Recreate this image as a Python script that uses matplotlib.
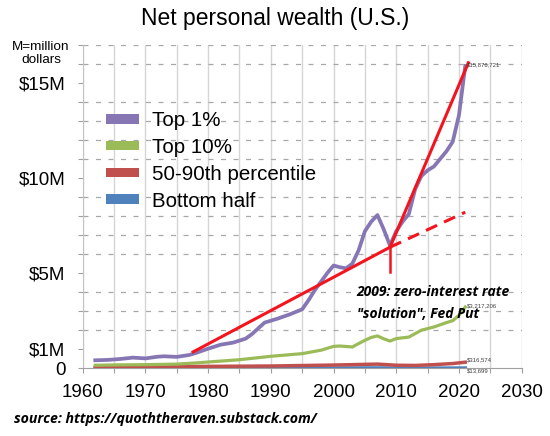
import matplotlib
matplotlib.use('Agg')
import matplotlib.pyplot as plt
from matplotlib.patches import Patch
from matplotlib.ticker import MultipleLocator, FixedLocator

# average net personal wealth, millions of dollars
top1_years = [1962, 1964, 1966, 1968, 1970, 1972, 1973, 1975, 1977, 1978,
              1980, 1982, 1984, 1986, 1987, 1989, 1991, 1993, 1995, 1996,
              1997, 1998, 1999, 2000, 2001, 2002, 2003, 2004, 2005, 2006,
              2007, 2008, 2009, 2010, 2011, 2012, 2013, 2014, 2015, 2016,
              2017, 2018, 2019, 2020, 2021]
top1 = [0.42, 0.44, 0.49, 0.56, 0.52, 0.61, 0.63, 0.60, 0.70, 0.80,
        1.03, 1.24, 1.35, 1.56, 1.80, 2.40, 2.60, 2.83, 3.10, 3.57,
        4.10, 4.55, 5.00, 5.40, 5.31, 5.25, 5.50, 6.20, 7.20, 7.70,
        8.05, 7.30, 6.45, 7.20, 7.70, 8.10, 9.40, 10.10, 10.40, 10.60,
        11.00, 11.40, 11.90, 13.30, 15.88]

top10_years = [1962, 1966, 1970, 1975, 1978, 1980, 1985, 1990, 1995, 1998,
               2000, 2001, 2003, 2004, 2005, 2006, 2007, 2008, 2009, 2010,
               2012, 2014, 2016, 2018, 2019, 2020, 2021]
top10 = [0.16, 0.18, 0.19, 0.22, 0.28, 0.33, 0.45, 0.63, 0.77, 0.95,
         1.15, 1.17, 1.12, 1.30, 1.47, 1.62, 1.70, 1.55, 1.43, 1.56,
         1.64, 2.00, 2.17, 2.40, 2.50, 2.78, 3.22]

mid_years = [1962, 1970, 1980, 1990, 2000, 2007, 2010, 2013, 2016, 2019, 2021]
mid40 = [0.06, 0.08, 0.10, 0.12, 0.17, 0.22, 0.16, 0.15, 0.19, 0.25, 0.32]

bottom_years = [1962, 1980, 2000, 2007, 2011, 2021]
bottom50 = [0.010, 0.013, 0.015, 0.020, 0.005, 0.0137]

# hand drawn red trend lines
trend_before_x = [1977.6, 2009]
trend_before_y = [0.86, 6.36]
trend_after_x = [2009, 2021.5]
trend_after_y = [6.36, 16.05]
trend_cont_x = [2009, 2021]
trend_cont_y = [6.36, 8.2]
drop_x = [2009, 2009]
drop_y = [6.36, 5.05]

end_labels = ['$15,876,721', '$3,217,206', '$316,574', '$13,699']

labels = ['Top 1%', 'Top 10%', '50-90th percentile', 'Bottom half']
colors = ['#8677b4', '#9bbb59', '#c0504d', '#4f81bd']

plt.rcParams['font.family'] = ['Liberation Sans', 'DejaVu Sans']

fig = plt.figure(figsize=(5.5, 4.36), dpi=100)
ax = fig.add_axes([0.1504, 0.1553, 0.7981, 0.7422])
ax.set_xlim(1960, 2030)
ax.set_ylim(0, 17)

ax.xaxis.set_major_locator(MultipleLocator(10))
ax.xaxis.set_minor_locator(MultipleLocator(5))
ax.yaxis.set_major_locator(FixedLocator([0, 1, 5, 10, 15]))
ax.yaxis.set_minor_locator(MultipleLocator(1))
ax.set_yticklabels(['0', '$1M', '$5M', '$10M', '$15M'])

ax.grid(which='both', axis='x', color='#d6d6d6', lw=1.0)
ax.grid(which='minor', axis='y', color='#a8a8a8', lw=0.9,
        linestyle=(0, (4, 6)))
ax.set_axisbelow(True)

for s in ['top', 'right']:
    ax.spines[s].set_visible(False)
ax.spines['left'].set_color('#c4c4c4')
ax.spines['bottom'].set_color('#a0a0a0')

ax.tick_params(axis='both', which='both', colors='#a0a0a0', length=3.5,
               width=0.8, labelcolor='black', labelsize=13.5)
ax.tick_params(axis='y', which='both', pad=9)
ax.tick_params(axis='x', which='both', pad=8)

ax.plot(bottom_years, bottom50, color=colors[3], lw=2.5, zorder=3)
ax.plot(mid_years, mid40, color=colors[2], lw=2.5, zorder=3)
ax.plot(top10_years, top10, color=colors[1], lw=2.3, zorder=3)
ax.plot(top1_years, top1, color=colors[0], lw=2.7, zorder=3)

red = '#f4141e'
ax.plot(trend_before_x, trend_before_y, color=red, lw=2.2, zorder=4)
ax.plot(trend_after_x, trend_after_y, color=red, lw=2.2, zorder=4)
ax.plot(trend_cont_x, trend_cont_y, color=red, lw=2.2, zorder=4,
        linestyle=(0, (4, 2.5)))
ax.plot(drop_x, drop_y, color=red, lw=1.8, zorder=4)

ends = [top1[-1], top10[-1], mid40[-1], bottom50[-1]]
offs = [0.05, 0.05, 0.12, -0.15]
for lab, v, o in zip(end_labels, ends, offs):
    ax.text(2021.3, v + o, lab, fontsize=4.3, color='#404040',
            va='center', ha='left', zorder=5)

handles = [Patch(facecolor=c, edgecolor='none') for c in colors]
ax.legend(handles, labels, loc='upper left', bbox_to_anchor=(0.035, 0.82),
          frameon=False, fontsize=14.8, handlelength=1.6, handleheight=0.35,
          handletextpad=0.6, labelspacing=0.38, borderaxespad=0)

ax.text(2003.7, 3.43, '2009: zero-interest rate\n"solution", Fed Put',
        family=['Open Sans', 'DejaVu Sans'], fontweight='bold',
        fontstyle='italic', fontsize=10, va='center', ha='left',
        linespacing=1.65, zorder=6)

fig.text(0.5, 1 - 19 / 436, 'Net personal wealth (U.S.)', fontsize=16.5,
         ha='center', va='center')
fig.text(41 / 550, 1 - 53.5 / 436, 'M=million\ndollars', fontsize=9.7,
         ha='center', va='center', linespacing=1.2)
fig.text(14 / 550, 1 - 419 / 436, 'source: https://quoththeraven.substack.com/',
         family=['Open Sans', 'DejaVu Sans'], fontweight='bold',
         fontstyle='italic', fontsize=10.2, ha='left', va='center')

fig.savefig('out.png', dpi=100)
